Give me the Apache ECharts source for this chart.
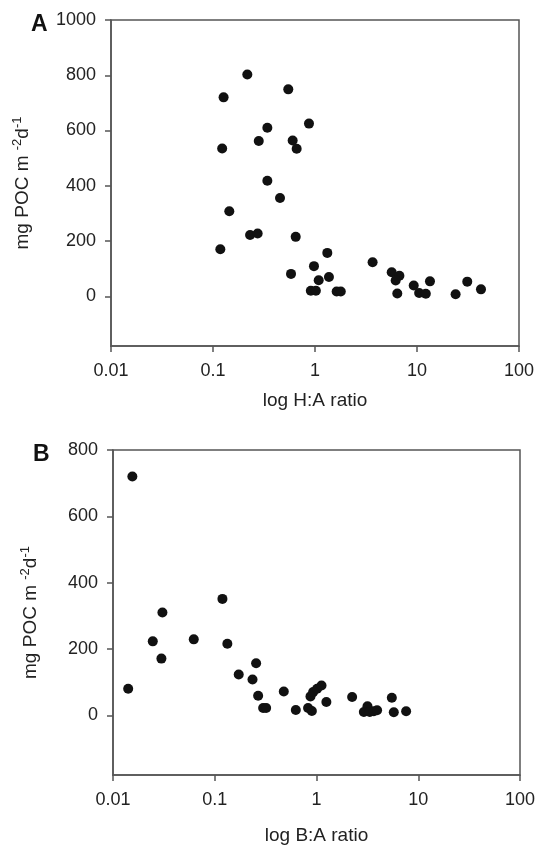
<!DOCTYPE html>
<html>
<head>
<meta charset="utf-8">
<script src="https://cdn.jsdelivr.net/npm/echarts@6/dist/echarts.min.js"></script>
<style>
html, body { margin: 0; padding: 0; background: #fff; }
#main { width: 539px; height: 847px; }
</style>
</head>
<body>
<div id="main"></div>
<script>
// panel A: H:A ratio vs POC flux
var haRatio = [0.217, 0.127, 0.123, 0.281, 0.341, 0.341, 0.547, 0.873, 0.604, 0.661, 0.454,
	0.1445, 0.118, 0.231, 0.274, 0.647, 0.582, 0.977, 1.32, 1.087, 1.37, 0.91, 1.02, 1.63, 1.79,
	3.67, 5.65, 6.72, 6.18, 6.41, 9.29, 10.5, 12.2, 13.4, 23.9, 31.1, 42.4];
var haPOC = [803, 720, 535, 562, 610, 418, 749, 625, 564, 534, 356,
	308, 170, 222, 227, 215, 81, 109, 157, 58, 70, 20, 20, 17, 17,
	123, 87, 74, 57, 10, 39, 12, 9, 54, 7, 53, 25];
// panel B: B:A ratio vs POC flux
var baRatio = [0.0155, 0.0306, 0.0246, 0.0622, 0.119, 0.133, 0.0299, 0.0141, 0.172, 0.255, 0.235,
	0.267, 0.299, 0.32, 0.477, 0.626, 0.826, 0.9, 0.873, 0.927, 1.014, 1.12, 1.25, 2.24,
	3.17, 2.92, 3.34, 3.66, 3.94, 5.5, 5.75, 7.6];
var baPOC = [720, 310, 223, 229, 351, 216, 171, 80, 123, 157, 108,
	59, 22, 22, 72, 16, 22, 13, 57, 70, 80, 90, 40, 55,
	27, 10, 10, 12, 15, 53, 9, 12];
var yTicksA = [0, 200, 400, 600, 800, 1000];
var yTicksB = [0, 200, 400, 600, 800];

function pairs(xs, ys) {
	var out = [];
	for (var i = 0; i < xs.length; i++) out.push([xs[i], ys[i]]);
	return out;
}

var axisCol = '#555';
var font = 'Liberation Sans, Arial, sans-serif';
var yName = '{n|mg POC m }{s|-2}{n|d}{s|-1}';

function xAxisOf(idx, name, gap) {
	return {
		type: 'log', logBase: 10, min: 0.01, max: 100, gridIndex: idx,
		name: name, nameLocation: 'middle', nameGap: gap,
		nameTextStyle: { fontSize: 19, color: '#222', fontFamily: font },
		axisLine: { show: true, onZero: false, lineStyle: { color: axisCol, width: 1.5 } },
		axisTick: { show: true, length: 6, lineStyle: { color: axisCol, width: 1.5 } },
		minorTick: { show: false },
		splitLine: { show: false },
		axisLabel: { fontSize: 18, color: '#222', fontFamily: font, margin: 16 }
	};
}

function yAxisOf(idx, max, ticks, gap) {
	return {
		type: 'value', min: -180, max: max, gridIndex: idx,
		name: yName, nameLocation: 'middle', nameGap: gap, nameRotate: 90,
		nameTextStyle: {
			color: '#222', fontFamily: font,
			rich: {
				n: { fontSize: 19, color: '#222', fontFamily: font },
				s: { fontSize: 13, color: '#222', fontFamily: font, padding: [0, 0, 11, 0] }
			}
		},
		axisLine: { show: true, onZero: false, lineStyle: { color: axisCol, width: 1.5 } },
		axisTick: { show: true, length: 6, customValues: ticks, lineStyle: { color: axisCol, width: 1.5 } },
		splitLine: { show: false },
		axisLabel: {
			fontSize: 18, color: '#222', fontFamily: font, margin: 15, customValues: ticks,
			formatter: function(v) { return String(v); }
		}
	};
}

var myChart = echarts.init(document.getElementById('main'));
var option = {
	backgroundColor: '#fff',
	animation: false,
	grid: [
		{ left: 111, top: 20, width: 408, height: 326, show: true, borderColor: axisCol, borderWidth: 1.5 },
		{ left: 113, top: 450, width: 407, height: 325, show: true, borderColor: axisCol, borderWidth: 1.5 }
	],
	xAxis: [xAxisOf(0, 'log H:A ratio', 45), xAxisOf(1, 'log B:A ratio', 51)],
	yAxis: [yAxisOf(0, 1000, yTicksA, 76), yAxisOf(1, 800, yTicksB, 70)],
	graphic: [
		{ type: 'text', left: 31, top: 13, style: { text: 'A', fontSize: 23, fontWeight: 'bold', fill: '#111', fontFamily: font } },
		{ type: 'text', left: 33, top: 443, style: { text: 'B', fontSize: 23, fontWeight: 'bold', fill: '#111', fontFamily: font } }
	],
	series: [
		{ type: 'scatter', xAxisIndex: 0, yAxisIndex: 0, symbolSize: 10, itemStyle: { color: '#111', opacity: 1 }, data: pairs(haRatio, haPOC) },
		{ type: 'scatter', xAxisIndex: 1, yAxisIndex: 1, symbolSize: 10, itemStyle: { color: '#111', opacity: 1 }, data: pairs(baRatio, baPOC) }
	]
};
myChart.setOption(option);
</script>
</body>
</html>
